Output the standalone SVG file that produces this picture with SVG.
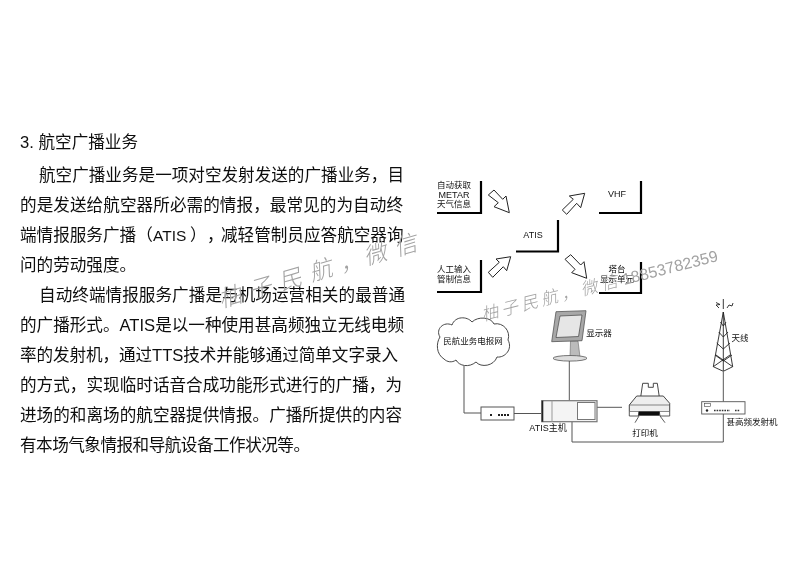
<svg xmlns="http://www.w3.org/2000/svg" width="800" height="566" viewBox="0 0 800 566">
<style>
text{font-family:"Noto Sans CJK SC","Liberation Sans",sans-serif}
.b{font-size:16.6px;fill:#111;font-weight:400}
.l{font-size:8.5px;fill:#111;text-anchor:middle}
.e{font-family:"Liberation Sans","Noto Sans CJK SC",sans-serif;font-size:9px;fill:#111;text-anchor:middle}
.c{fill:none;stroke:#000;stroke-width:2.2}
.a{fill:#fff;stroke:#222;stroke-width:1}
.t{fill:none;stroke:#222;stroke-width:.9}
.d{fill:#222}
.wm{fill:#a2a2a2;font-weight:300;font-style:italic}
</style>
<defs><filter id="soft" x="0" y="0" width="100%" height="100%"><feGaussianBlur stdDeviation="0.35"/></filter></defs>
<rect width="800" height="566" fill="#fff"/>
<g filter="url(#soft)">

<g id="article">
<text x="20" y="148" class="b" textLength="118" lengthAdjust="spacing"><tspan font-family="Liberation Sans">3. </tspan>航空广播业务</text>
<text x="39" y="181" class="b" textLength="365" lengthAdjust="spacing">航空广播业务是一项对空发射发送的广播业务，目</text>
<text x="20" y="211" class="b" textLength="383" lengthAdjust="spacing">的是发送给航空器所必需的情报，最常见的为自动终</text>
<text x="20" y="241" class="b">端情报服务广播（<tspan x="153" font-family="Liberation Sans" font-size="15.5">ATIS</tspan><tspan x="190">）</tspan><tspan x="207">，</tspan><tspan x="221">减轻管制员应答航空器询</tspan></text>
<text x="20" y="271" class="b">问的劳动强度。</text>
<text x="39" y="301" class="b" textLength="366" lengthAdjust="spacing">自动终端情报服务广播是与机场运营相关的最普通</text>
<text x="20" y="331" class="b" textLength="384" lengthAdjust="spacing">的广播形式。<tspan font-family="Liberation Sans">ATIS</tspan>是以一种使用甚高频独立无线电频</text>
<text x="20" y="361" class="b" textLength="378" lengthAdjust="spacing">率的发射机，通过<tspan font-family="Liberation Sans">TTS</tspan>技术并能够通过简单文字录入</text>
<text x="20" y="391" class="b" textLength="382" lengthAdjust="spacing">的方式，实现临时话音合成功能形式进行的广播，为</text>
<text x="20" y="421" class="b" textLength="382" lengthAdjust="spacing">进场的和离场的航空器提供情报。广播所提供的内容</text>
<text x="20" y="451" class="b" textLength="290" lengthAdjust="spacing">有本场气象情报和导航设备工作状况等。</text>
</g>

<g id="connectors">
<polygon class="a" points="488.3,195 494,190 502.7,199.3 506,196 509.3,212.7 494,206.7 498.3,202.7"/>
<polygon class="a" points="562.3,210 573.3,199.3 569.3,196 584.7,193.3 580.7,207.7 576.7,203.3 566.7,214.3"/>
<polygon class="a" points="488.3,272.3 499.3,262.3 496,259 510.7,256.7 506.7,270.7 503.3,266.7 492.7,277.3"/>
<polygon class="a" points="565,259.3 570.7,254.7 580.7,265 584,261.7 586.7,278.3 571.7,272.7 575,269.3"/>
<g fill="none" stroke="#555" stroke-width="1">
<path d="M464 366V413H481"/>
<path d="M514 413.5H541"/>
<path d="M569.3 361V400.7"/>
<path d="M597 407.3H622"/>
<path d="M572 421.7V442H723.3V414"/>
<path d="M723.3 371.7V401.7"/>
</g>
</g>

<g id="n-auto">
<path class="c" d="M481 181V213H437"/>
<text class="l" x="454" y="188">自动获取</text>
<text class="e" x="454" y="198">METAR</text>
<text class="l" x="454" y="207">天气信息</text>
</g>
<g id="n-vhf">
<path class="c" d="M641 181V213H599"/>
<text class="e" x="617" y="197">VHF</text>
</g>
<g id="n-atis">
<path class="c" d="M558 220V251.5H516"/>
<text class="e" x="533" y="238">ATIS</text>
</g>
<g id="n-manual">
<path class="c" d="M481 260V292H437"/>
<text class="l" x="454" y="272">人工输入</text>
<text class="l" x="454" y="282">管制信息</text>
</g>
<g id="n-tower">
<path class="c" d="M641 262V293H599"/>
<text class="l" x="617" y="272">塔台</text>
<text class="l" x="617" y="282">显示单元</text>
</g>

<g id="n-cloud">
<path d="M444 359C436 354 436 343 440 337C435 329 444 321 452 325C455 316 467 316 472 322C478 316 491 317 494 324C503 322 511 331 508 340C513 349 505 358 497 357C494 366 481 368 476 362C469 368 459 366 456 360C452 363 447 362 444 359Z" fill="#fff" stroke="#333" stroke-width=".9"/>
<text class="l" x="473" y="343.5">民航业务电报网</text>
</g>
<g id="n-modem">
<rect x="481" y="407" width="33" height="13" fill="#fff" stroke="#555" stroke-width="1"/>
<rect class="d" x="490" y="414" width="2" height="2"/>
<rect class="d" x="498" y="414" width="2" height="2"/>
<rect class="d" x="501" y="414" width="2" height="2"/>
<rect class="d" x="504" y="414" width="2" height="2"/>
<rect class="d" x="507" y="414" width="2" height="2"/>
</g>
<g id="n-monitor">
<polygon points="570.5,341 578,341 580,357 570,357" fill="#bbb" stroke="#666" stroke-width=".6"/>
<ellipse cx="570" cy="358.3" rx="17" ry="2.8" fill="#ddd" stroke="#555" stroke-width=".8"/>
<polygon points="556,311.7 586,310.7 582,340.7 551.7,341.7" fill="#a8a8a8" stroke="#555" stroke-width=".8"/>
<polygon points="560,316 582,315 578.5,336.5 556,337.5" fill="#e6e6e6" stroke="#444" stroke-width=".7"/>
<text class="l" x="599" y="336">显示器</text>
</g>
<g id="n-host">
<rect x="541.7" y="400.7" width="55.3" height="21" fill="#f4f4f4" stroke="#777" stroke-width="1.2"/>
<rect x="541.7" y="400.7" width="1.6" height="21" fill="#222"/>
<path d="M552 400.7V421.7" stroke="#999" stroke-width="1"/>
<rect x="577.5" y="402.5" width="17.5" height="17" fill="#fff" stroke="#777" stroke-width="1"/>
<text class="l" x="548" y="431" style="font-size:9px"><tspan font-family="Liberation Sans">ATIS</tspan>主机</text>
</g>
<g id="n-printer">
<path d="M640.7 397L642.7 383.3H648.3V387.3H653.3V383.3H657.3L659.3 397" fill="#fff" stroke="#333" stroke-width=".9"/>
<path d="M629.3 405L636.7 396H663.3L669.7 403.3V411.7H629.3Z" fill="#eee" stroke="#333" stroke-width=".9"/>
<path d="M629.3 405H669.7" stroke="#555" stroke-width=".7"/>
<path d="M629.3 411.7V416H638.3L639.3 411.7M669.7 411.7V416H660L659.3 411.7" fill="#fff" stroke="#333" stroke-width=".8"/>
<rect x="638.5" y="411.7" width="21" height="4" fill="#111"/>
<path d="M639 416L635 422.7M660 416L665 422.7" stroke="#333" stroke-width=".8"/>
<text class="l" x="645" y="435.5">打印机</text>
</g>
<g id="n-antenna">
<path class="t" d="M723.3 312L713.3 366.7L723.3 371.3L732.7 366.7ZM720.5 322L723.3 326L726 322M718.7 332L723.3 337L728 332M716.7 343L723.3 349L730 343M715 355L723.3 361L732 355M713.3 366.7L730 355M732.7 366.7L716 355M723.3 312V371"/>
<path class="t" d="M723.3 309V299M719 308L716 305L720 304.5L716 302.5M727 308L729 305L732 306L733 303"/>
<text class="l" x="740" y="341">天线</text>
</g>
<g id="n-tx">
<rect x="701.7" y="401.7" width="43.3" height="12.3" fill="#fff" stroke="#555" stroke-width=".9"/>
<rect x="704.5" y="403.3" width="6" height="3" fill="none" stroke="#444" stroke-width=".6"/>
<circle class="d" cx="707" cy="410.5" r="1.2"/>
<path d="M714 410.5H730M735 410.5H740" stroke="#333" stroke-width="1.6" stroke-dasharray="1.6 1"/>
<text class="l" x="752" y="425">甚高频发射机</text>
</g>

<g id="watermarks">
<text class="wm" x="221" y="308" font-size="23" letter-spacing="8.5" transform="rotate(-16.4 221 308)">柚子民航，<tspan dx="-6">微信</tspan></text>
<text class="wm" x="483" y="321" font-size="17" letter-spacing="3.5" transform="rotate(-14.3 483 321)">柚子民航，微信<tspan dx="2" font-family="Liberation Sans" font-style="normal" font-size="16" letter-spacing="0">18853782359</tspan></text>
</g>
</g>
</svg>
